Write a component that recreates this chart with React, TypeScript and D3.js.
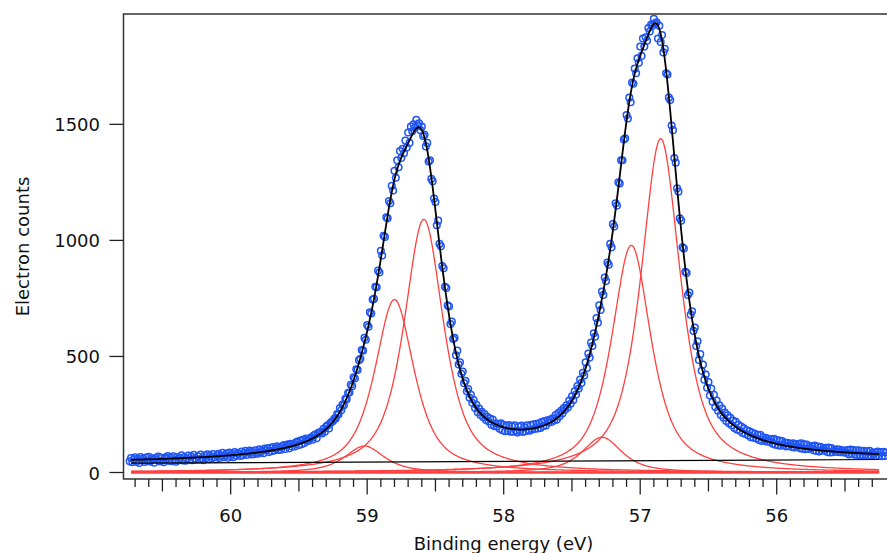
import React from 'react';
import * as d3 from 'd3';

const W = 887;
const H = 553;

// measured spectrum: 0.01 eV steps from 60.74 eV down to 55.20 eV
const energyStart = 60.74;
const energyStep = 0.01;
const counts = [
  48, 62, 44, 57, 66, 46, 59, 41, 67, 52,
  60, 45, 64, 50, 68, 47, 61, 56, 42, 63,
  55, 69, 48, 63, 52, 44, 66, 58, 71, 50,
  64, 49, 70, 55, 46, 67, 53, 63, 74, 52,
  66, 51, 58, 73, 56, 69, 53, 76, 60, 55,
  70, 56, 77, 61, 53, 73, 62, 78, 57, 72,
  62, 79, 66, 57, 74, 81, 63, 73, 85, 66,
  74, 82, 64, 86, 70, 80, 66, 88, 72, 83,
  82, 71, 90, 74, 85, 93, 76, 87, 95, 78,
  89, 79, 96, 85, 81, 100, 86, 95, 83, 103,
  96, 104, 88, 106, 92, 110, 95, 103, 113, 97,
  109, 98, 114, 118, 101, 116, 121, 104, 124, 112,
  124, 112, 130, 133, 118, 138, 122, 141, 127, 146,
  140, 136, 145, 152, 141, 160, 163, 148, 170, 172,
  175, 168, 188, 176, 198, 203, 190, 213, 218, 222,
  232, 233, 252, 250, 278, 268, 293, 290, 318, 316,
  342, 345, 378, 372, 410, 405, 445, 442, 484, 490,
  528, 525, 580, 572, 635, 628, 690, 685, 745, 748,
  800, 798, 870, 862, 955, 935, 1020, 1015, 1100, 1095,
  1170, 1160, 1235, 1215, 1300, 1270, 1345, 1315, 1385, 1355,
  1395, 1375, 1430, 1400, 1465, 1420, 1490, 1470, 1500, 1485,
  1520, 1495, 1505, 1475, 1490, 1450, 1455, 1405, 1420, 1340,
  1345, 1265, 1255, 1180, 1165, 1065, 1085, 985, 975, 890,
  880, 800, 795, 720, 715, 640, 650, 575, 580, 505,
  525, 465, 475, 425, 435, 385, 395, 350, 360, 322,
  335, 300, 312, 278, 292, 260, 275, 248, 262, 238,
  252, 226, 240, 220, 232, 206, 228, 200, 212, 198,
  210, 188, 212, 182, 206, 178, 202, 180, 204, 176,
  200, 176, 203, 180, 172, 198, 178, 202, 175, 196,
  178, 203, 183, 180, 205, 185, 208, 188, 210, 190,
  212, 192, 218, 200, 222, 202, 225, 215, 228, 218,
  234, 224, 248, 228, 256, 242, 266, 254, 278, 270,
  290, 280, 310, 296, 328, 312, 350, 336, 372, 362,
  400, 386, 430, 418, 475, 450, 512, 495, 560, 545,
  600, 585, 665, 645, 720, 700, 780, 765, 840, 825,
  905, 895, 985, 970, 1070, 1060, 1160, 1150, 1250, 1245,
  1345, 1345, 1435, 1440, 1540, 1525, 1615, 1595, 1680, 1675,
  1740, 1720, 1785, 1765, 1835, 1795, 1870, 1835, 1875, 1860,
  1915, 1900, 1930, 1925, 1955, 1935, 1940, 1870, 1925, 1855,
  1885, 1810, 1825, 1720, 1715, 1615, 1605, 1495, 1475, 1355,
  1335, 1225, 1210, 1095, 1085, 970, 965, 865, 860, 765,
  775, 680, 695, 610, 625, 545, 565, 485, 510, 438,
  465, 400, 422, 365, 390, 332, 362, 305, 335, 282,
  310, 266, 290, 248, 275, 236, 258, 222, 246, 212,
  236, 204, 224, 192, 218, 184, 205, 180, 198, 170,
  190, 166, 182, 160, 178, 152, 172, 150, 167, 146,
  162, 140, 162, 136, 152, 140, 150, 133, 145, 132,
  143, 124, 145, 120, 140, 117, 138, 115, 135, 118,
  128, 112, 128, 114, 124, 110, 126, 108, 122, 110,
  124, 104, 126, 102, 122, 100, 120, 101, 113, 104,
  114, 96, 116, 93, 112, 90, 111, 94, 104, 95,
  106, 88, 108, 86, 105, 87, 98, 90, 100, 88,
  99, 88, 96, 86, 95, 85, 97, 78, 99, 80,
  97, 77, 95, 76, 96, 75, 93, 73, 94, 76,
  91, 72, 93, 74, 85, 78, 87, 71, 90, 72,
  88, 70, 89, 71, 86,
];

// fit: linear background + six pseudo-Voigt components
const peakCenters = [59.02, 58.8, 58.585, 57.28, 57.065, 56.85];
const peakHeights = [114, 745, 1091, 152, 979, 1438];
const peakFwhm = 0.345;
const lorentzFraction = 0.75;
const fitRange = [60.73, 55.25];
const backgroundEnds = [40, 56];

const xMajorTicks = [60, 59, 58, 57, 56];
const yTicks = [0, 500, 1000, 1500];

const gam = peakFwhm / 2;
const sig = peakFwhm / 2.3548;
const voigt = (e: number, c: number, a: number) => {
  const d = e - c;
  return a * (lorentzFraction / (1 + (d * d) / (gam * gam)) +
    (1 - lorentzFraction) * Math.exp(-(d * d) / (2 * sig * sig)));
};

export default function App() {
  const x = d3.scaleLinear().domain([60.785, 55.19]).range([123.5, 887.3]);
  const y = d3.scaleLinear().domain([-28, 1975]).range([479, 14.1]);
  const left = 123.5, top = 14.1, bottom = 479;

  const bg = d3.scaleLinear().domain(fitRange).range(backgroundEnds);
  const grid = d3.range(0, 1101).map(i => fitRange[0] - i * (fitRange[0] - fitRange[1]) / 1100);

  const line = d3.line<[number, number]>().x(d => x(d[0])).y(d => y(d[1]));
  const fitPts: [number, number][] = grid.map(e =>
    [e, bg(e) + d3.sum(peakCenters, (c, i) => voigt(e, c, peakHeights[i]))]);
  const comps = peakCenters.map((c, i) =>
    line(grid.map(e => [e, voigt(e, c, peakHeights[i])] as [number, number])));

  const pts = counts.map((v, i) => [energyStart - i * energyStep, v]);
  const minor = d3.range(553, 608).map(v => v / 10);

  return (
    <svg width={W} height={H} style={{ position: 'absolute', left: 0, top: 0 }}
      fontFamily="'DejaVu Sans', sans-serif">
      <rect width={W} height={H} fill="#fff" />

      {pts.map((p, i) => (
        <circle key={i} cx={x(p[0])} cy={y(p[1])} r={3.3} fill="none"
          stroke="#1f55f5" strokeWidth={1.5} />
      ))}

      <line x1={x(fitRange[0])} x2={x(fitRange[1])} y1={y(0)} y2={y(0)} stroke="#ff4040" strokeWidth={2.6} />
      {comps.map((d, i) => (
        <path key={i} d={d || ''} fill="none" stroke="#ff4040" strokeWidth={1.3} />
      ))}

      <line x1={x(fitRange[0])} x2={x(fitRange[1])} y1={y(backgroundEnds[0])} y2={y(backgroundEnds[1])}
        stroke="#000" strokeWidth={1.2} />
      <path d={line(fitPts) || ''} fill="none" stroke="#000" strokeWidth={1.8} />

      {/* frame */}
      <path d={`M${W + 5},${top}H${left}V${bottom}H${W + 5}`} fill="none" stroke="#333" strokeWidth={1.5} />

      {/* x ticks */}
      {minor.map(v => {
        const isMajor = Math.abs(v - Math.round(v)) < 1e-6;
        const isHalf = Math.abs(v * 2 - Math.round(v * 2)) < 1e-6;
        const len = isMajor ? 15.5 : isHalf ? 12.5 : 8;
        return <line key={v} x1={x(v)} x2={x(v)} y1={bottom} y2={bottom + len} stroke="#222" strokeWidth={1.3} />;
      })}
      {xMajorTicks.map(v => (
        <text key={v} x={x(v)} y={521.5} textAnchor="middle" fontSize={18} fill="#111">{v}</text>
      ))}

      {/* y ticks */}
      {yTicks.map(v => (
        <g key={v}>
          <line x1={left - 14} x2={left} y1={y(v)} y2={y(v)} stroke="#222" strokeWidth={1.3} />
          <text x={100} y={y(v) + 7} textAnchor="end" fontSize={18} fill="#111">{v}</text>
        </g>
      ))}

      <text x={503.5} y={550} textAnchor="middle" fontSize={18} fill="#111">Binding energy (eV)</text>
      <text transform="translate(28.5,246.5) rotate(-90)" textAnchor="middle" fontSize={18} fill="#111">Electron counts</text>
    </svg>
  );
}
